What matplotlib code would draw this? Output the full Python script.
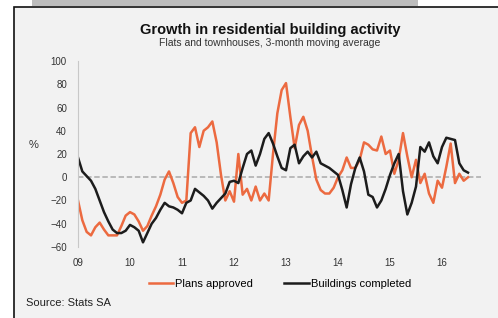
import numpy as np
import matplotlib
matplotlib.use("Agg")
import matplotlib.pyplot as plt
from matplotlib.patches import Rectangle
from matplotlib.lines import Line2D

plt.rcParams['font.family'] = ['Liberation Sans', 'DejaVu Sans']

# monthly values from Jan 2009, % y/y (3-month moving average)
plans_approved = [-20, -37, -47, -50, -43, -39, -45, -50, -50, -50, -42, -33,
                  -30, -32, -38, -46, -42, -33, -25, -15, -2, 5, -5, -17,
                  -22, -20, 38, 43, 26, 40, 43, 48, 30, 2, -20, -12,
                  -21, 20, -15, -10, -20, -8, -20, -14, -20, 20, 55, 75,
                  81, 52, 25, 45, 52, 40, 18, -2, -11, -14, -14, -9,
                  0, 6, 17, 8, 8, 15, 30, 28, 24, 23, 35, 20,
                  23, 3, 15, 38, 18, 0, 15, -5, 3, -14, -22, -3,
                  -9, 9, 29, -5, 3, -3, 0]
buildings_completed = [17, 5, 1, -3, -10, -20, -30, -38, -45, -48, -48, -46,
                       -41, -43, -46, -56, -48, -40, -35, -28, -22, -25, -26, -28,
                       -31, -22, -20, -10, -13, -16, -20, -27, -22, -18, -14, -4,
                       -3, -5, 8, 20, 23, 10, 20, 33, 38, 29, 18, 8,
                       6, 25, 28, 12, 18, 22, 17, 22, 12, 10, 8, 5,
                       2, -11, -26, -6, 8, 17, 5, -15, -17, -26, -20, -10,
                       2, 12, 20, -12, -32, -22, -8, 26, 22, 30, 18, 12,
                       26, 34, 33, 32, 12, 6, 4]
year_labels = ['09', '10', '11', '12', '13', '14', '15', '16']
y_ticks = [-60, -40, -20, 0, 20, 40, 60, 80, 100]

months = np.arange(len(plans_approved))
orange = '#ec6a40'
dark = '#1c1c1c'

fig = plt.figure(figsize=(4.98, 3.18), dpi=100)
fig.patch.set_facecolor('white')

# grey strip at the top and the framed panel
fig.patches.append(Rectangle((32/498, 1 - 6/318), 386/498, 6/318, transform=fig.transFigure,
                             facecolor='#bdbdbd', edgecolor='none', zorder=-10))
fig.patches.append(Rectangle((14/498, -0.01), 1.0, 1 - 7/318 + 0.01, transform=fig.transFigure,
                             facecolor='#f2f2f2', edgecolor='#111111', linewidth=1.2, zorder=-10))

ax = fig.add_axes([78/498, 1 - 247/318, 403/498, 186/318])
ax.set_facecolor('none')
ax.plot(months, plans_approved, color=orange, lw=1.8, label='Plans approved')
ax.plot(months, buildings_completed, color=dark, lw=1.8, label='Buildings completed')
ax.axhline(0, color='#b4b4b4', lw=1.3, ls=(0, (3, 1.5)), zorder=0)

ax.set_xlim(0, 93)
ax.set_ylim(-60, 100)
ax.set_yticks(y_ticks)
ax.set_xticks(np.arange(len(year_labels)) * 12)
ax.set_xticklabels(year_labels)
ax.tick_params(length=0, labelsize=7, colors='#333333', pad=8)
for s in ['top', 'right', 'bottom']:
    ax.spines[s].set_visible(False)
ax.spines['left'].set_color('#c8c8c8')
ax.set_ylabel('%', rotation=0, fontsize=8, color='#333333')
ax.yaxis.set_label_coords(-0.11, 0.52)

fig.text(270/498, 1 - 30/318, 'Growth in residential building activity', ha='center', va='center',
         fontsize=10.5, fontweight='bold', color='#111111')
fig.text(270/498, 1 - 43/318, 'Flats and townhouses, 3-month moving average', ha='center', va='center',
         fontsize=7.5, color='#333333')

handles = [Line2D([], [], color=orange, lw=1.8), Line2D([], [], color=dark, lw=1.8)]
fig.legend(handles, ['Plans approved', 'Buildings completed'], loc='center',
           bbox_to_anchor=(280/498, 1 - 284/318), ncol=2, frameon=False, fontsize=8,
           handlelength=2.2, handletextpad=0.2, columnspacing=2.8)
fig.text(26/498, 1 - 303/318, 'Source: Stats SA', ha='left', va='center', fontsize=8, color='#222222')

fig.savefig('out.png', dpi=100)
